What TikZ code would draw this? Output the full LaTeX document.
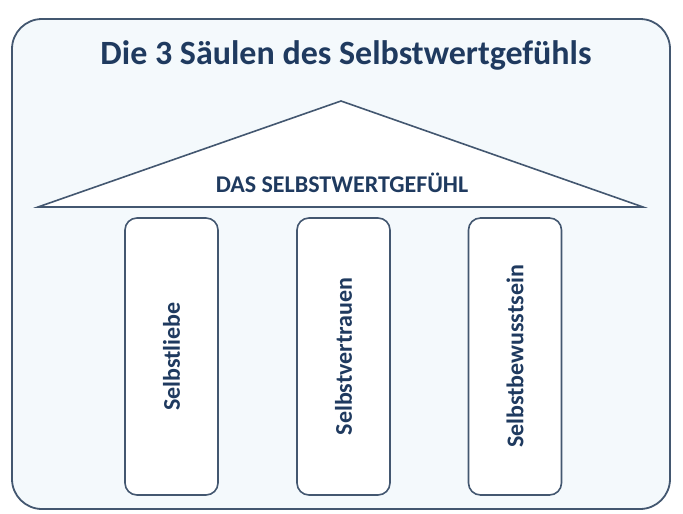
\documentclass[tikz,border=0pt]{standalone}
\usepackage{fontspec}
\setmainfont{Carlito}
\definecolor{rahmen}{HTML}{435770}
\definecolor{schrift}{HTML}{1F3A5F}
\definecolor{grund}{HTML}{F4F9FC}
\tikzset{
  saeule/.style={draw=rahmen, line width=1.6pt, fill=white, rounded corners=12pt,
    minimum width=277pt, minimum height=93pt, rotate=90,
    text=schrift, font=\fontsize{24}{24}\selectfont\bfseries},
}
\begin{document}
\begin{tikzpicture}[x=1pt,y=-1pt]
    \useasboundingbox (0,0) rectangle (683,514);
    \draw [rahmen, line width=1.8pt, fill=grund, rounded corners=30pt] (12,19) rectangle (670,509);
    \node [text=schrift, font=\fontsize{34}{34}\selectfont\bfseries] (titel) at (346,55) {Die 3 Säulen des Selbstwertgefühls};
    % Dach
    \draw [rahmen, line width=1.6pt, fill=white, line join=miter] (38,207)--(341,101)--(643,207)--cycle;
    \node [text=schrift, font=\fontsize{24}{24}\selectfont\bfseries] (dach) at (342,183) {DAS SELBSTWERTGEFÜHL};
    % Saeulen
    \node [saeule] (liebe) at (171.5,356.5) {Selbstliebe};
    \node [saeule] (vertrauen) at (343.5,356.5) {Selbstvertrauen};
    \node [saeule] (bewusst) at (515,356.5) {Selbstbewusstsein};
\end{tikzpicture}
\end{document}
